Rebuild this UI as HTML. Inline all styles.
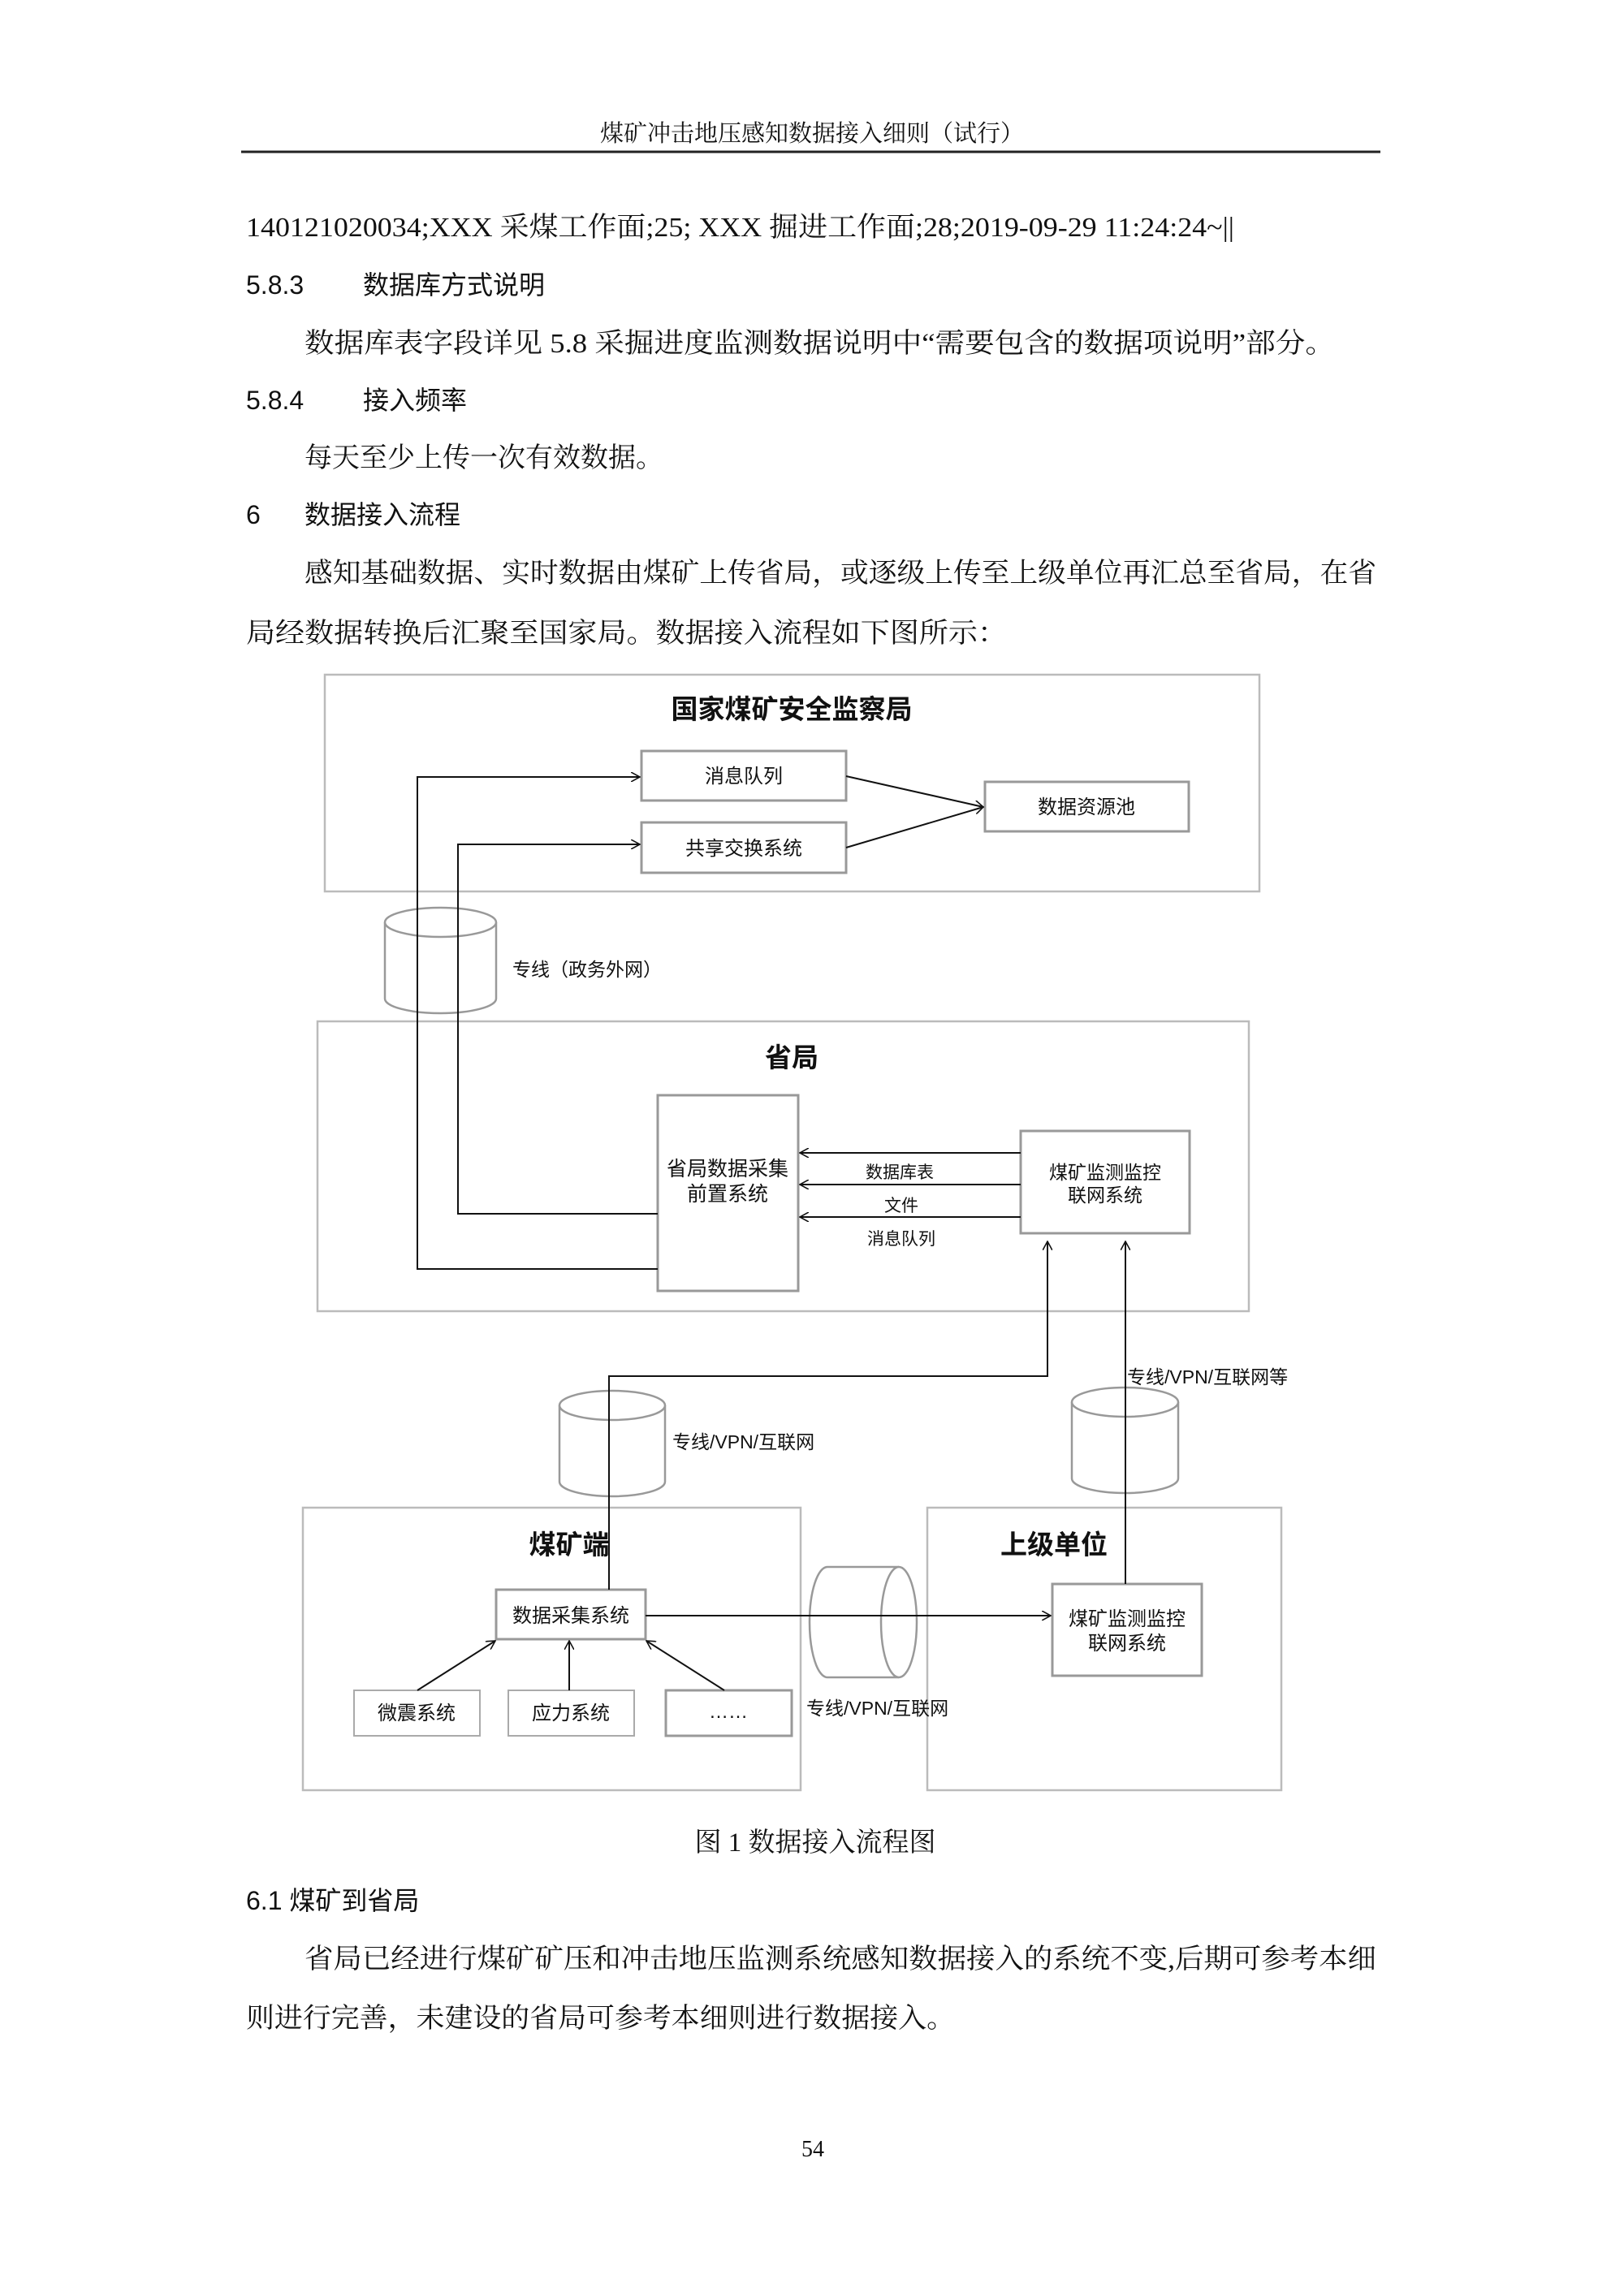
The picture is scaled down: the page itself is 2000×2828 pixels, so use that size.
<!DOCTYPE html>
<html><head><meta charset="utf-8"><style>
html,body{margin:0;padding:0;background:#fff;}
svg{display:block;}
.s{font-family:"Liberation Serif","Noto Serif CJK SC",serif;fill:#111;}
.h{font-family:"Liberation Sans","Noto Sans CJK SC",sans-serif;fill:#111;}
.d{font-family:"Liberation Sans","Noto Sans CJK SC",sans-serif;fill:#111;}
</style></head><body>
<svg width="2000" height="2828" viewBox="0 0 2000 2828" xmlns="http://www.w3.org/2000/svg">
<defs>
<marker id="a" viewBox="0 0 12 12" refX="11" refY="6" markerWidth="12" markerHeight="12" markerUnits="userSpaceOnUse" orient="auto">
<path d="M0,0 L11,6 L0,12" fill="none" stroke="#111" stroke-width="1.6"/>
</marker>
</defs>
<!-- header -->
<text x="1000" y="174" class="s" font-size="29" text-anchor="middle" fill="#333">煤矿冲击地压感知数据接入细则（试行）</text>
<line x1="297" y1="187" x2="1700" y2="187" stroke="#222" stroke-width="3"/>

<text x="303" y="291" class="s" font-size="34" textLength="1217" lengthAdjust="spacingAndGlyphs">140121020034;XXX 采煤工作面;25; XXX 掘进工作面;28;2019-09-29 11:24:24~||</text>
<text x="303" y="362" class="h" font-size="32">5.8.3</text>
<text x="447" y="362" class="h" font-size="32">数据库方式说明</text>
<text x="375" y="434" class="s" font-size="34" textLength="1269" lengthAdjust="spacingAndGlyphs">数据库表字段详见 5.8 采掘进度监测数据说明中“需要包含的数据项说明”部分。</text>
<text x="303" y="504" class="h" font-size="32">5.8.4</text>
<text x="447" y="504" class="h" font-size="32">接入频率</text>
<text x="375" y="575" class="s" font-size="34">每天至少上传一次有效数据。</text>
<text x="303" y="645" class="h" font-size="32">6</text>
<text x="375" y="645" class="h" font-size="32">数据接入流程</text>
<text x="375" y="717" class="s" font-size="34" textLength="1320" lengthAdjust="spacingAndGlyphs">感知基础数据、实时数据由煤矿上传省局，或逐级上传至上级单位再汇总至省局，在省</text>
<text x="303" y="791" class="s" font-size="34" textLength="937" lengthAdjust="spacingAndGlyphs">局经数据转换后汇聚至国家局。数据接入流程如下图所示：</text>

<!-- diagram -->
<g fill="none" stroke="#bbb" stroke-width="2.5">
<rect x="400" y="831" width="1151" height="267"/>
<rect x="391" y="1258" width="1147" height="357"/>
<rect x="373" y="1857" width="613" height="348"/>
<rect x="1142" y="1857" width="436" height="348"/>
</g>
<g fill="#fff" stroke="#999" stroke-width="3">
<rect x="790" y="925" width="252" height="61"/>
<rect x="790" y="1013" width="252" height="62"/>
<rect x="1213" y="963" width="251" height="61"/>
<rect x="810" y="1349" width="173" height="241"/>
<rect x="1257" y="1393" width="208" height="126"/>
<rect x="611" y="1958" width="184" height="61"/>
<rect x="1296" y="1951" width="184" height="113"/>
<rect x="436" y="2082" width="155" height="56" stroke="#aaa" stroke-width="2"/>
<rect x="626" y="2082" width="155" height="56" stroke="#aaa" stroke-width="2"/>
<rect x="820" y="2082" width="155" height="56"/>
</g>
<!-- cylinders -->
<g fill="#fff" stroke="#999" stroke-width="2.5">
<path d="M474,1136 L474,1230 A68.5,18 0 0 0 611,1230 L611,1136"/>
<ellipse cx="542.5" cy="1136" rx="68.5" ry="18"/>
<path d="M689,1731 L689,1825 A65,18 0 0 0 819,1825 L819,1731"/>
<ellipse cx="754" cy="1731" rx="65" ry="18"/>
<path d="M1320,1727 L1320,1821 A65.5,18 0 0 0 1451,1821 L1451,1727"/>
<ellipse cx="1385.5" cy="1727" rx="65.5" ry="18"/>
<path d="M1107,1930 L1019,1930 A22,68 0 0 0 1019,2066 L1107,2066"/>
<ellipse cx="1107" cy="1998" rx="22" ry="68"/>
</g>
<!-- connectors -->
<g fill="none" stroke="#111" stroke-width="2">
<polyline points="810,1563 514,1563 514,957 788,957" marker-end="url(#a)"/>
<polyline points="810,1495 564,1495 564,1040 788,1040" marker-end="url(#a)"/>
<line x1="1042" y1="956" x2="1211" y2="994" marker-end="url(#a)"/>
<line x1="1042" y1="1044" x2="1211" y2="994" marker-end="url(#a)"/>
<line x1="1257" y1="1420" x2="985" y2="1420" marker-end="url(#a)"/>
<line x1="1257" y1="1459" x2="985" y2="1459" marker-end="url(#a)"/>
<line x1="1257" y1="1499" x2="985" y2="1499" marker-end="url(#a)"/>
<polyline points="750,1958 750,1695 1290,1695 1290,1529" marker-end="url(#a)"/>
<polyline points="1386,1951 1386,1529" marker-end="url(#a)"/>
<line x1="795" y1="1990" x2="1294" y2="1990" marker-end="url(#a)"/>
<line x1="514" y1="2082" x2="610" y2="2021" marker-end="url(#a)"/>
<line x1="701" y1="2082" x2="701" y2="2021" marker-end="url(#a)"/>
<line x1="892" y1="2082" x2="796" y2="2021" marker-end="url(#a)"/>
</g>
<!-- diagram text -->
<g class="d" text-anchor="middle">
<text x="975" y="885" font-size="33" font-weight="bold">国家煤矿安全监察局</text>
<text x="916" y="964" font-size="24">消息队列</text>
<text x="916" y="1053" font-size="24">共享交换系统</text>
<text x="1338" y="1002" font-size="24">数据资源池</text>
<text x="975" y="1314" font-size="33" font-weight="bold">省局</text>
<text x="896" y="1448" font-size="25">省局数据采集</text>
<text x="896" y="1479" font-size="25">前置系统</text>
<text x="1361" y="1452" font-size="23">煤矿监测监控</text>
<text x="1361" y="1480" font-size="23">联网系统</text>
<text x="1108" y="1451" font-size="21">数据库表</text>
<text x="1110" y="1492" font-size="21">文件</text>
<text x="1110" y="1533" font-size="21">消息队列</text>
<text x="701" y="1914" font-size="33" font-weight="bold">煤矿端</text>
<text x="1298" y="1914" font-size="33" font-weight="bold">上级单位</text>
<text x="703" y="1998" font-size="24">数据采集系统</text>
<text x="1388" y="2002" font-size="24">煤矿监测监控</text>
<text x="1388" y="2032" font-size="24">联网系统</text>
<text x="513" y="2118" font-size="24">微震系统</text>
<text x="703" y="2118" font-size="24">应力系统</text>
<text x="897" y="2116" font-size="24">……</text>
</g>
<g class="d" font-size="23">
<text x="631" y="1202">专线（政务外网）</text>
<text x="1388" y="1704">专线/VPN/互联网等</text>
<text x="828" y="1784">专线/VPN/互联网</text>
<text x="993" y="2112">专线/VPN/互联网</text>
</g>

<text x="1004" y="2280" class="s" font-size="33" text-anchor="middle">图  1 数据接入流程图</text>
<text x="303" y="2352" class="h" font-size="32">6.1 煤矿到省局</text>
<text x="375" y="2424" class="s" font-size="34" textLength="1320" lengthAdjust="spacingAndGlyphs">省局已经进行煤矿矿压和冲击地压监测系统感知数据接入的系统不变,后期可参考本细</text>
<text x="303" y="2497" class="s" font-size="34" textLength="873" lengthAdjust="spacingAndGlyphs">则进行完善，未建设的省局可参考本细则进行数据接入。</text>
<text x="1001" y="2656" class="s" font-size="28" text-anchor="middle" fill="#333">54</text>
</svg>
</body></html>
